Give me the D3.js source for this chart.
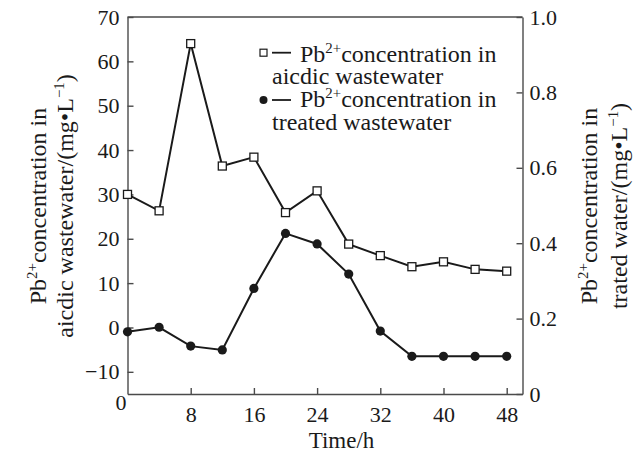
<!DOCTYPE html>
<html>
<head>
<meta charset="utf-8">
<script src="https://cdn.jsdelivr.net/npm/d3@7"></script>
<style>
  body { margin: 0; background: #fff; }
  svg { display: block; font-family: "Liberation Serif", "Times New Roman", serif; }
</style>
</head>
<body>
<svg id="chart" width="640" height="455"></svg>
<script>
'use strict'
// time points (h)
const hours = [0, 4, 8, 12, 16, 20, 24, 28, 32, 36, 40, 44, 48]
// Pb2+ in acidic wastewater, left axis (mg/L)
const acidic = [30.0, 26.3, 64.0, 36.4, 38.4, 25.9, 30.8, 18.8, 16.2, 13.7, 14.8, 13.1, 12.7]
// Pb2+ in treated wastewater, right axis (mg/L)
const treated = [0.165, 0.177, 0.127, 0.117, 0.280, 0.426, 0.398, 0.318, 0.167, 0.100, 0.100, 0.100, 0.100]

const xTicks = [0, 8, 16, 24, 32, 40, 48]
const leftTicks = [-10, 0, 10, 20, 30, 40, 50, 60, 70]
const rightTicks = [0, 0.2, 0.4, 0.6, 0.8, 1.0]

const box = {left: 127.5, right: 522.5, top: 17, bottom: 394}
const ink = '#1a1a1a', axisInk = '#4a4a4a'

const svg = d3.select('#chart')

const x = d3.scaleLinear().domain([0, 50]).range([box.left, box.right])
const yL = d3.scaleLinear().domain([-15, 70]).range([box.bottom, box.top])
const yR = d3.scaleLinear().domain([0, 1]).range([box.bottom, box.top])

// axes, ticks point inward
let gx = svg.append('g')
    .attr('transform', 'translate(0,' + box.bottom + ')')
    .call(d3.axisBottom(x).tickValues(xTicks).tickSizeInner(-6).tickSizeOuter(0).tickPadding(12))
let gl = svg.append('g')
    .attr('transform', 'translate(' + box.left + ',0)')
    .call(d3.axisLeft(yL).tickValues(leftTicks).tickSizeInner(-6).tickSizeOuter(0).tickPadding(8))
let gr = svg.append('g')
    .attr('transform', 'translate(' + box.right + ',0)')
    .call(d3.axisRight(yR).tickValues(rightTicks).tickSizeInner(-6).tickSizeOuter(0).tickPadding(7)
        .tickFormat(function(d){ return d === 0 ? '0' : d.toFixed(1) }))

svg.selectAll('.domain').attr('stroke', axisInk).attr('stroke-width', 1.4)
svg.selectAll('.tick line').attr('stroke', axisInk).attr('stroke-width', 1.4)
svg.selectAll('.tick text').attr('fill', ink).style('font-size', '22px').style('font-family', 'Liberation Serif')

// the x "0" sits down in the corner, a bit left and higher
gx.selectAll('.tick').filter(function(d){ return d === 0 }).select('text')
    .attr('transform', 'translate(-7,-12)')
gx.selectAll('.tick').filter(function(d){ return d === 0 }).select('line').remove()

// top border
svg.append('line')
    .attr('x1', box.left).attr('x2', box.right)
    .attr('y1', box.top).attr('y2', box.top)
    .attr('stroke', axisInk).attr('stroke-width', 1.4)

// lines
const lineL = d3.line().x(function(d, i){ return x(hours[i]) }).y(function(d){ return yL(d) })
const lineR = d3.line().x(function(d, i){ return x(hours[i]) }).y(function(d){ return yR(d) })

svg.append('path').attr('d', lineL(acidic))
    .attr('fill', 'none').attr('stroke', ink).attr('stroke-width', 2)
svg.append('path').attr('d', lineR(treated))
    .attr('fill', 'none').attr('stroke', ink).attr('stroke-width', 2)

const sq = 8
svg.selectAll('.sq').data(acidic).enter().append('rect')
    .attr('class', 'sq')
    .attr('x', function(d, i){ return x(hours[i]) - sq / 2 })
    .attr('y', function(d){ return yL(d) - sq / 2 })
    .attr('width', sq).attr('height', sq)
    .attr('fill', '#fff').attr('stroke', ink).attr('stroke-width', 1.3)

svg.selectAll('.dot').data(treated).enter().append('circle')
    .attr('class', 'dot')
    .attr('cx', function(d, i){ return x(hours[i]) })
    .attr('cy', function(d){ return yR(d) })
    .attr('r', 4.6)
    .attr('fill', ink)

// text with a superscript
function supText(sel, parts, size) {
    sel.style('font-size', size + 'px').attr('fill', ink)
    parts.forEach(function(p){
        if (p.sup) {
            sel.append('tspan').attr('dy', -size * 0.36).style('font-size', (size * 0.62) + 'px').text(p.t)
        } else if (p.after) {
            sel.append('tspan').attr('dy', size * 0.36).text(p.t)
        } else {
            sel.append('tspan').text(p.t)
        }
    })
}

// legend
const legSize = 24
const leg = svg.append('g')
leg.append('rect').attr('x', 263.5 - 3.5).attr('y', 52.7 - 3.5).attr('width', 7).attr('height', 7)
    .attr('fill', '#fff').attr('stroke', ink).attr('stroke-width', 1.2)
leg.append('line').attr('x1', 272).attr('x2', 291).attr('y1', 52.7).attr('y2', 52.7)
    .attr('stroke', ink).attr('stroke-width', 1.8)
leg.append('circle').attr('cx', 263.5).attr('cy', 100).attr('r', 4).attr('fill', ink)
leg.append('line').attr('x1', 272).attr('x2', 291).attr('y1', 100).attr('y2', 100)
    .attr('stroke', ink).attr('stroke-width', 1.8)

supText(leg.append('text').attr('x', 300).attr('y', 61.7),
    [{t: 'Pb'}, {t: '2+', sup: true}, {t: 'concentration in', after: true}], legSize)
leg.append('text').attr('x', 272).attr('y', 83.5).attr('fill', ink).style('font-size', legSize + 'px')
    .text('aicdic wastewater')
supText(leg.append('text').attr('x', 300).attr('y', 106.5),
    [{t: 'Pb'}, {t: '2+', sup: true}, {t: 'concentration in', after: true}], legSize)
leg.append('text').attr('x', 272).attr('y', 130).attr('fill', ink).style('font-size', legSize + 'px')
    .text('treated wastewater')

// axis titles
svg.append('text').attr('x', 341.5).attr('y', 448).attr('text-anchor', 'middle')
    .attr('fill', ink).style('font-size', '23px').text('Time/h')

function yTitle(xPos, yPos, parts, size) {
    let t = svg.append('text')
        .attr('transform', 'translate(' + xPos + ',' + yPos + ') rotate(-90)')
        .attr('text-anchor', 'middle')
    supText(t, parts, size)
}
yTitle(46, 206, [{t: 'Pb'}, {t: '2+', sup: true}, {t: 'concentration in', after: true}], 24)
yTitle(73, 206, [{t: 'aicdic wastewater/(mg\u2022L'}, {t: '\u22121', sup: true}, {t: ')', after: true}], 24)
yTitle(597, 206, [{t: 'Pb'}, {t: '2+', sup: true}, {t: 'concentration in', after: true}], 24)
yTitle(627, 206, [{t: 'trated water/(mg\u2022L'}, {t: '\u22121', sup: true}, {t: ')', after: true}], 24)
</script>
</body>
</html>
